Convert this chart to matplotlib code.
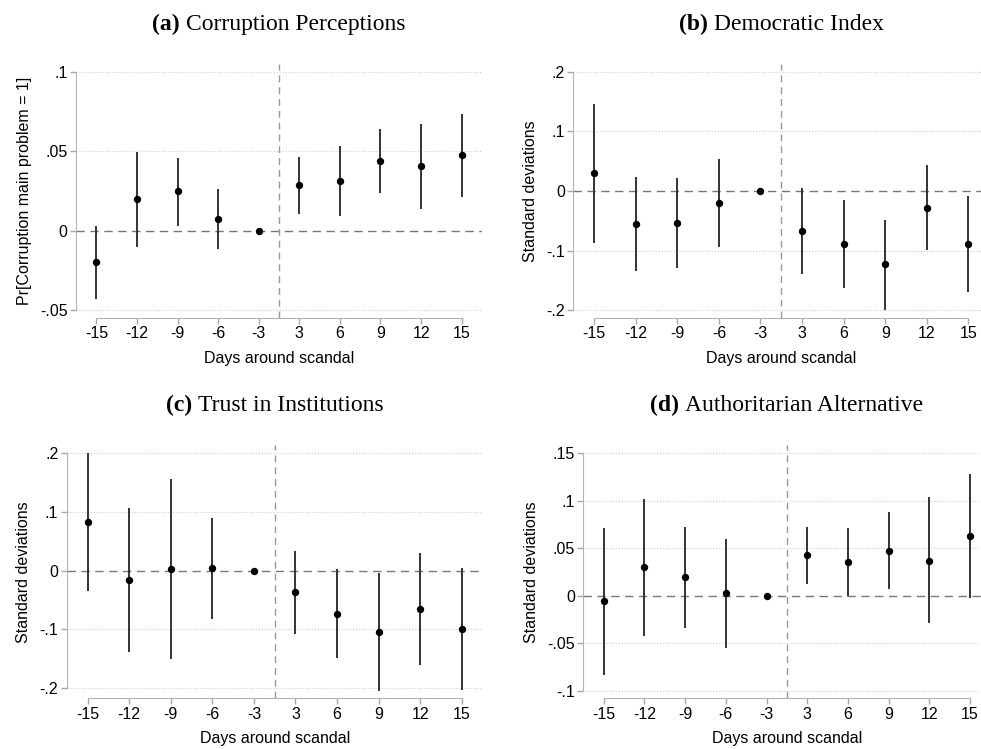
import matplotlib
matplotlib.use('Agg')
import matplotlib.pyplot as plt
import numpy as np

''' Event-study estimates around the scandal '''

days = ['-15', '-12', '-9', '-6', '-3', '3', '6', '9', '12', '15']

# (a) Corruption perceptions
corr_est = [-0.020, 0.020, 0.0248, 0.0074, 0.0, 0.0288, 0.0313, 0.0441, 0.0405, 0.0475]
corr_hi = [0.0027, 0.0498, 0.046, 0.0263, 0.0, 0.0466, 0.0536, 0.0643, 0.067, 0.0737]
corr_lo = [-0.043, -0.010, 0.0032, -0.0116, 0.0, 0.0107, 0.0095, 0.0237, 0.0139, 0.0212]

# (b) Democratic index
dem_est = [0.030, -0.055, -0.053, -0.020, 0.0, -0.067, -0.089, -0.123, -0.028, -0.089]
dem_hi = [0.1456, 0.0229, 0.0218, 0.054, 0.0, 0.005, -0.015, -0.048, 0.043, -0.009]
dem_lo = [-0.087, -0.134, -0.129, -0.094, 0.0, -0.139, -0.163, -0.199, -0.099, -0.170]

# (c) Trust in institutions
trust_est = [0.0825, -0.0164, 0.0028, 0.004, 0.0, -0.037, -0.073, -0.1045, -0.066, -0.100]
trust_hi = [0.200, 0.1056, 0.155, 0.090, 0.0, 0.033, 0.003, -0.005, 0.029, 0.004]
trust_lo = [-0.0345, -0.138, -0.150, -0.082, 0.0, -0.107, -0.149, -0.204, -0.161, -0.203]

# (d) Authoritarian alternative
auth_est = [-0.0056, 0.0298, 0.0193, 0.0025, 0.0, 0.0427, 0.0357, 0.0473, 0.0371, 0.063]
auth_hi = [0.0714, 0.1015, 0.0725, 0.0595, 0.0, 0.0728, 0.0714, 0.0879, 0.1036, 0.1285]
auth_lo = [-0.083, -0.042, -0.0343, -0.0546, 0.0, 0.0126, 0.0, 0.0074, -0.029, -0.0028]

panels = [
    ('(a)', 'Corruption Perceptions', 'Pr[Corruption main problem = 1]',
     corr_est, corr_lo, corr_hi, [-0.05, 0, 0.05, 0.1], ['-.05', '0', '.05', '.1'], (-0.055, 0.105),
     [0.0775, 0.5754, 0.4138, 0.339]),
    ('(b)', 'Democratic Index', 'Standard deviations',
     dem_est, dem_lo, dem_hi, [-0.2, -0.1, 0, 0.1, 0.2], ['-.2', '-.1', '0', '.1', '.2'], (-0.213, 0.213),
     [0.5844, 0.5754, 0.424, 0.339]),
    ('(c)', 'Trust in Institutions', 'Standard deviations',
     trust_est, trust_lo, trust_hi, [-0.2, -0.1, 0, 0.1, 0.2], ['-.2', '-.1', '0', '.1', '.2'], (-0.217, 0.213),
     [0.068, 0.0677, 0.424, 0.338]),
    ('(d)', 'Authoritarian Alternative', 'Standard deviations',
     auth_est, auth_lo, auth_hi, [-0.1, -0.05, 0, 0.05, 0.1, 0.15], ['-.1', '-.05', '0', '.05', '.1', '.15'],
     (-0.1077, 0.1584), [0.5946, 0.0677, 0.415, 0.338]),
]

plt.rcParams['font.family'] = ['Liberation Sans', 'DejaVu Sans']

fig = plt.figure(figsize=(9.81, 7.49), dpi=100)
renderer = fig.canvas.get_renderer()

for tag, title, ylab, est, lo, hi, yt, ytl, ylim, pos in panels:
    ax = fig.add_axes(pos)
    x = np.arange(len(days))
    ax.set_xlim(-0.5, len(days) - 0.5)
    ax.set_ylim(*ylim)
    for t in yt:
        if t != 0:
            ax.axhline(t, color='#cccccc', linestyle=':', linewidth=0.8, zorder=0)
    ax.axhline(0, color='#777777', linestyle=(0, (6, 4)), linewidth=1.0, zorder=1)
    ax.axvline(4.5, color='#999999', linestyle=(0, (5, 3.5)), linewidth=1.0, zorder=1)
    ax.vlines(x, lo, hi, color='#333333', linewidth=1.4, zorder=2)
    ax.plot(x, est, 'o', color='k', markersize=4.3, zorder=3)

    ax.set_xticks(x)
    ax.set_xticklabels(days)
    ax.set_yticks(yt)
    ax.set_yticklabels(ytl)
    ax.tick_params(axis='both', labelsize=11.5, colors='#a8a8a8', labelcolor='k', length=4, width=1, pad=2)
    for s in ['top', 'right']:
        ax.spines[s].set_visible(False)
    ax.spines['left'].set_color('#b4b4b4')
    ax.spines['bottom'].set_color('#b4b4b4')
    ax.spines['left'].set_bounds(yt[0], yt[-1])
    ax.spines['bottom'].set_bounds(0, len(days) - 1)
    ax.set_xlabel('Days around scandal', fontsize=11.5, labelpad=7)
    ax.set_ylabel(ylab, fontsize=11.5, labelpad=6)

    # title: bold tag + regular text, centred over the panel
    cx = pos[0] + pos[2] / 2
    ty = pos[1] + pos[3] + 0.053
    t1 = fig.text(0, ty, tag + ' ', fontsize=17, fontweight='bold', family='Liberation Serif', va='center')
    t2 = fig.text(0, ty, title, fontsize=17, family='Liberation Serif', va='center')
    w1 = t1.get_window_extent(renderer).width / fig.bbox.width
    w2 = t2.get_window_extent(renderer).width / fig.bbox.width
    x0 = cx - (w1 + w2) / 2
    t1.set_x(x0)
    t2.set_x(x0 + w1)

fig.savefig('out.png', dpi=100)
